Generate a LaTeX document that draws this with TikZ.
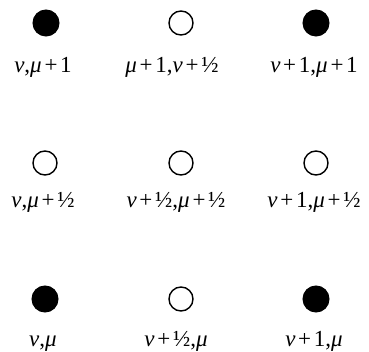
\documentclass[tikz,border=0pt]{standalone}
\usepackage{fontspec}
\setmainfont{Liberation Serif}
\newcommand{\gn}{{\itshape ν}}
\newcommand{\gm}{{\itshape μ}}
\newcommand{\pl}{\hspace{0.12em}+\hspace{0.12em}}
\newcommand{\hf}{½}
\begin{document}
\begin{tikzpicture}[x=1pt,y=-1pt,
  full/.style={circle,fill=black,draw=black,line width=1pt,minimum size=26pt,inner sep=0pt},
  open/.style={circle,fill=white,draw=black,line width=1.4pt,minimum size=24pt,inner sep=0pt},
  lab/.style={anchor=base,font=\fontsize{23}{26}\selectfont,inner sep=0pt}]
\useasboundingbox (0,0) rectangle (369,352);
\node[full] (a1) at (46,23) {};
\node[open] (a2) at (181,23) {};
\node[full] (a3) at (316,23) {};
\node[open] (b1) at (45,163) {};
\node[open] (b2) at (181,163) {};
\node[open] (b3) at (316,163) {};
\node[full] (c1) at (45,299) {};
\node[open] (c2) at (181,299) {};
\node[full] (c3) at (316,299) {};
\node[lab] (la1) at (43,73) {\gn,\gm\pl1};
\node[lab] (la2) at (172,73) {\gm\pl1,\gn\pl\hf};
\node[lab] (la3) at (314,73) {\gn\pl1,\gm\pl1};
\node[lab] (lb1) at (43,208) {\gn,\gm\pl\hf};
\node[lab] (lb2) at (176,208) {\gn\pl\hf,\gm\pl\hf};
\node[lab] (lb3) at (314,208) {\gn\pl1,\gm\pl\hf};
\node[lab] (lc1) at (43,346) {\gn,\gm};
\node[lab] (lc2) at (176,346) {\gn\pl\hf,\gm};
\node[lab] (lc3) at (314,346) {\gn\pl1,\gm};
\end{tikzpicture}
\end{document}
